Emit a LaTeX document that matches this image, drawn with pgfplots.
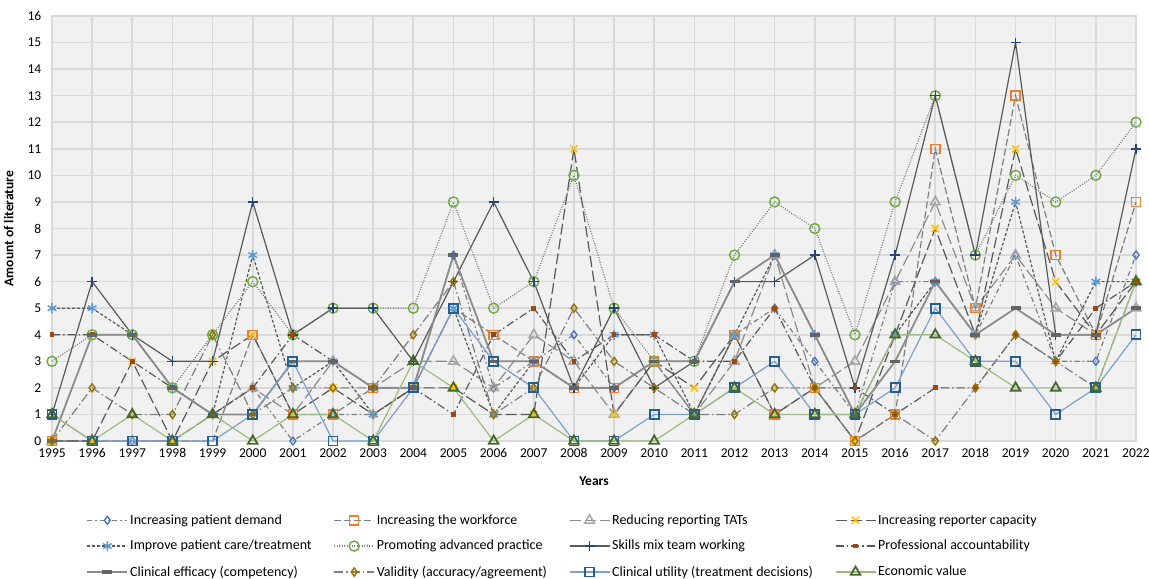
\documentclass[border=0pt]{standalone}
\usepackage{pgfplots}
\pgfplotsset{compat=1.18}
\usepackage{fontspec}
\setmainfont{Carlito}
\definecolor{c1}{HTML}{4472C4}
\definecolor{c2}{HTML}{ED7D31}
\definecolor{c3}{HTML}{A5A5A5}
\definecolor{c4}{HTML}{FFC000}
\definecolor{c5}{HTML}{5B9BD5}
\definecolor{c6}{HTML}{70AD47}
\definecolor{c7}{HTML}{264478}
\definecolor{c8}{HTML}{9E480E}
\definecolor{c9}{HTML}{636363}
\definecolor{c10}{HTML}{997300}
\definecolor{c11}{HTML}{255E91}
\definecolor{c12}{HTML}{43682B}
\definecolor{lg}{HTML}{7F7F7F}
\definecolor{dg}{HTML}{595959}
\definecolor{mg}{HTML}{8C8C8C}
\definecolor{lb}{HTML}{7F9FCA}
\definecolor{lgr}{HTML}{9BBB7F}
\definecolor{gridc}{HTML}{D9D9D9}
\definecolor{bgc}{HTML}{F1F1F1}

\pgfplotstableread{
year s1 s2 s3 s4 s5 s6 s7 s8 s9 s10 s11 s12
1995 0 0 0 0 5 3 1 4 0 0 1 1
1996 0 0 0 0 5 4 6 4 4 2 0 0
1997 0 0 0 3 4 4 4 3 4 1 0 1
1998 0 0 0 0 2 2 3 2 2 1 0 0
1999 1 0 1 3 1 4 3 1 1 4 0 1
2000 2 4 2 4 7 6 9 2 1 1 1 0
2001 0 1 1 1 2 4 4 4 3 2 3 1
2002 1 1 3 2 3 5 5 3 3 2 0 1
2003 1 2 2 1 1 5 5 2 2 2 0 0
2004 2 2 3 2 2 5 3 2 2 4 2 3
2005 7 5 3 2 5 9 6 1 7 6 5 2
2006 2 4 2 1 1 5 9 4 3 1 3 0
2007 3 3 4 1 3 6 6 5 3 2 2 1
2008 4 2 3 11 2 10 2 3 2 5 0 0
2009 2 2 1 1 4 5 5 4 2 3 0 0
2010 3 3 3 3 4 3 2 4 3 2 1 0
2011 1 1 1 2 1 3 3 3 3 1 1 1
2012 4 4 3 4 4 7 6 3 6 1 2 2
2013 5 1 7 1 7 9 6 5 7 2 3 1
2014 3 2 2 2 4 8 7 2 4 2 1 1
2015 1 0 3 0 1 4 2 2 1 0 1 1
2016 6 1 6 4 4 9 7 1 3 1 2 4
2017 6 11 9 8 6 13 13 2 6 0 5 4
2018 4 5 5 4 4 7 7 2 4 2 3 3
2019 7 13 7 11 9 10 15 4 5 4 3 2
2020 3 7 5 6 3 9 4 3 4 3 1 2
2021 3 4 4 4 6 10 4 5 4 2 2 2
2022 7 9 5 6 6 12 11 6 5 6 4 6
}\data

\begin{document}
\fontsize{13.5bp}{16bp}\selectfont
\begin{tikzpicture}
\begin{axis}[
  name=ax,
  scale only axis,
  width=1084bp, height=425bp,
  xmin=1995, xmax=2022, ymin=0, ymax=16,
  xtick={1995,...,2022}, ytick={0,...,16},
  xticklabel style={/pgf/number format/1000 sep=},
  /pgf/number format/assume math mode=true,
  tick style={draw=none}, major tick length=0pt,
  xticklabel style={yshift=-3bp}, yticklabel style={xshift=-6bp},
  grid=major, major grid style={draw=gridc, line width=1.6bp},
  axis line style={draw=gridc, line width=1.6bp},
  axis background/.style={fill=bgc},
  tick label style={font=\fontsize{13.5bp}{16bp}\selectfont},
  xlabel={\textbf{Years}}, ylabel={\textbf{Amount of literature}},
  label style={font=\fontsize{13.5bp}{16bp}\selectfont},
  xlabel style={yshift=-10bp},
  ylabel style={yshift=5bp},
  legend columns=4,
  legend cell align=left,
  legend style={at={(0.471,-0.163)}, anchor=north, draw=none, fill=none,
    font=\fontsize{14bp}{16bp}\selectfont,
    /tikz/every even column/.append style={column sep=20bp},
    row sep=10bp},
  legend image code/.code={\draw[mark repeat=2,mark phase=2] plot coordinates {(0bp,0bp)(20bp,0bp)(40bp,0bp)};},
  every axis plot/.append style={line width=1.2bp},
  clip=false,
]
\addplot[lg, dash pattern=on 5bp off 3bp on 1.5bp off 3bp, mark=diamond, mark size=4bp, mark options={solid, draw=c1, fill=white, line width=1.3bp}] table[x=year,y=s1]{\data};
\addlegendentry{Increasing patient demand}
\addplot[lg, dash pattern=on 7bp off 3bp, mark=square, mark size=4.5bp, mark options={solid, draw=c2, fill=white, line width=1.5bp}] table[x=year,y=s2]{\data};
\addlegendentry{Increasing the workforce}
\addplot[mg, dash pattern=on 11bp off 4bp, mark=triangle, mark size=5.5bp, mark options={solid, draw=c3, fill=white, line width=1.5bp}] table[x=year,y=s3]{\data};
\addlegendentry{Reducing reporting TATs}
\addplot[dg, dash pattern=on 11bp off 4bp, mark=x, mark size=5bp, mark options={solid, draw=c4, line width=1.5bp}] table[x=year,y=s4]{\data};
\addlegendentry{Increasing reporter capacity}
\addplot[dg, dash pattern=on 3bp off 2bp, mark=asterisk, mark size=5bp, mark options={solid, draw=c5, line width=1.5bp}] table[x=year,y=s5]{\data};
\addlegendentry{Improve patient care/treatment}
\addplot[lg, dash pattern=on 1bp off 1.5bp, mark=o, mark size=5bp, mark options={solid, draw=c6, fill=white, line width=1.5bp}] table[x=year,y=s6]{\data};
\addlegendentry{Promoting advanced practice}
\addplot[dg, solid, mark=+, mark size=5bp, mark options={solid, draw=c7, line width=1.5bp}] table[x=year,y=s7]{\data};
\addlegendentry{Skills mix team working}
\addplot[dg, dash pattern=on 8bp off 3bp on 1.5bp off 3bp, mark=square*, mark size=1.8bp, mark options={solid, draw=c8, fill=c8}] table[x=year,y=s8]{\data};
\addlegendentry{Professional accountability}
\addplot[mg, solid, line width=1.8bp, mark=-, mark size=5bp, mark options={solid, draw=c9, line width=3.5bp}] table[x=year,y=s9]{\data};
\addlegendentry{Clinical efficacy (competency)}
\addplot[lg, dash pattern=on 9bp off 3bp on 1.5bp off 3bp, mark=diamond, mark size=4bp, mark options={solid, draw=c10, fill=white, line width=1.5bp}] table[x=year,y=s10]{\data};
\addlegendentry{Validity (accuracy/agreement)}
\addplot[lb, solid, mark=square, mark size=4.5bp, mark options={solid, draw=c11, fill=white, line width=1.8bp}] table[x=year,y=s11]{\data};
\addlegendentry{Clinical utility (treatment decisions)}
\addplot[lgr, solid, mark=triangle, mark size=5.5bp, mark options={solid, draw=c12, fill=white, line width=1.8bp}] table[x=year,y=s12]{\data};
\addlegendentry{Economic value}
\end{axis}
\pgfresetboundingbox
\useasboundingbox ([xshift=-52bp,yshift=16bp]ax.north west) rectangle ([xshift=13bp,yshift=-137bp]ax.south east);
\end{tikzpicture}
\end{document}
